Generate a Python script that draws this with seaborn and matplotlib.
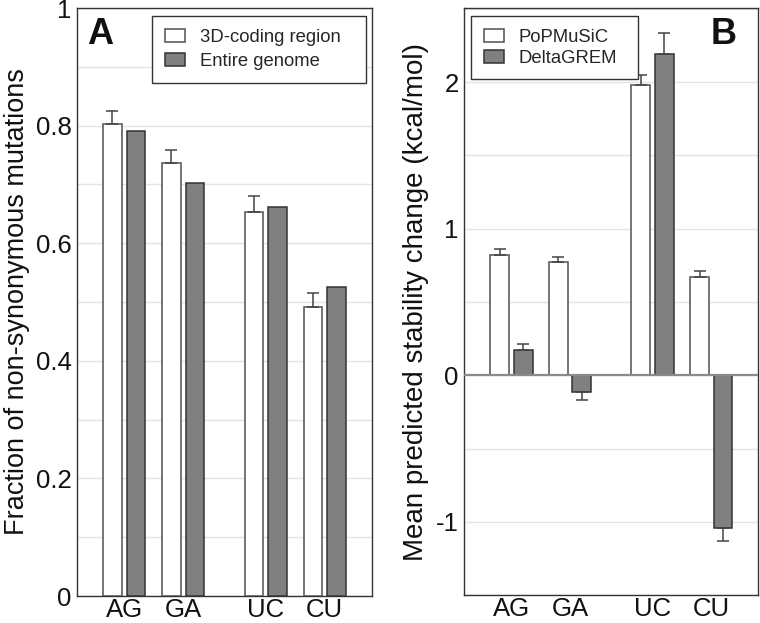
import numpy as np
import pandas as pd
import matplotlib
matplotlib.use("Agg")
import matplotlib.pyplot as plt
import seaborn as sns

# ---------------- data ----------------
categories = ["AG", "GA", "UC", "CU"]

a_series = ["3D-coding region", "Entire genome"]
a_coding = [0.803, 0.736, 0.653, 0.492]
a_coding_err = [0.022, 0.023, 0.027, 0.024]
a_genome = [0.791, 0.702, 0.662, 0.526]
a_genome_err = [0.0, 0.0, 0.0, 0.0]

b_series = ["PoPMuSiC", "DeltaGREM"]
b_pop = [0.820, 0.770, 1.979, 0.672]
b_pop_err = [0.041, 0.039, 0.071, 0.042]
b_dg = [0.170, -0.114, 2.193, -1.042]
b_dg_err = [0.047, 0.051, 0.140, 0.090]

a_yticks = [0, 0.2, 0.4, 0.6, 0.8, 1]
b_yticks = [-1, 0, 1, 2]

# layout (group positions on a numeric axis, with a gap between pairs)
group_pos = [0.0, 1.0, 2.4, 3.4]

sns.set_theme(style="white")
plt.rcParams["font.family"] = ["Liberation Sans", "DejaVu Sans"]

FILL = {0: "white", 1: "#808080"}
EDGE = {0: "#505050", 1: "#333333"}


def make_df(series, v1, v2):
    rows = []
    for s, vals in zip(series, [v1, v2]):
        for c, p, v in zip(categories, group_pos, vals):
            rows.append({"cat": c, "pos": p, "series": s, "value": v})
    return pd.DataFrame(rows)


def draw_panel(ax, series, v1, e1, v2, e2, ylim, yticks, minor_step, ylabel,
               letter, letter_xy, leg_bbox, leg_spacing, labelpad, ylabel_size):
    df = make_df(series, v1, v2)
    sns.barplot(data=df, x="pos", y="value", hue="series", hue_order=series,
                native_scale=True, palette={series[0]: FILL[0], series[1]: FILL[1]},
                gap=0.2, width=0.8, errorbar=None, linewidth=1.1,
                legend=False, ax=ax, zorder=3)
    bars = [c for c in ax.containers]
    for i, cont in enumerate(bars):
        for p in cont.patches:
            p.set_edgecolor(EDGE[i])
            p.set_linewidth(1.1)
    # legend
    handles = [bars[0].patches[0], bars[1].patches[0]]
    leg = ax.legend(handles, series, loc="upper left", bbox_to_anchor=leg_bbox,
                    mode="expand", borderaxespad=0, fontsize=13.3,
                    handlelength=1.08, handleheight=0.7, handletextpad=0.8,
                    labelspacing=leg_spacing, borderpad=0.7, fancybox=False,
                    framealpha=1)
    leg.get_frame().set_edgecolor("#333333")
    leg.get_frame().set_linewidth(1.0)
    leg.set_zorder(10)
    # one-sided error bars in the direction of the bar
    for i, errs in enumerate([e1, e2]):
        for p, e in zip(bars[i].patches, errs):
            if e <= 0:
                continue
            xc = p.get_x() + p.get_width() / 2
            yv = p.get_y() + p.get_height()
            if yv >= 0:
                yerr = [[0], [e]]
            else:
                yerr = [[e], [0]]
            ax.errorbar([xc], [yv], yerr=yerr, fmt="none", ecolor="#444444",
                        elinewidth=1.1, capsize=4.5, capthick=1.1, zorder=4)
    ax.set_xlim(-0.8, 4.2)
    ax.set_ylim(*ylim)
    ax.set_yticks(yticks)
    ax.set_yticklabels([("%g" % t) for t in yticks])
    ax.set_yticks(np.arange(ylim[0] - ylim[0] % minor_step, ylim[1] + 1e-9, minor_step), minor=True)
    ax.grid(True, which="both", axis="y", color="#e4e4e4", linewidth=1.0, zorder=0)
    ax.grid(False, axis="x")
    ax.set_axisbelow(True)
    ax.set_xticks(group_pos)
    ax.set_xticklabels(categories)
    ax.tick_params(axis="both", which="both", length=0, labelsize=18.5, colors="#111111")
    ax.tick_params(axis="x", pad=1.5)
    ax.tick_params(axis="y", pad=4)
    ax.set_xlabel("")
    ax.set_ylabel(ylabel, fontsize=ylabel_size, color="#111111", labelpad=labelpad)
    for s in ax.spines.values():
        s.set_visible(True)
        s.set_color("#333333")
        s.set_linewidth(1.0)
    ax.text(letter_xy[0], letter_xy[1], letter, transform=ax.transAxes,
            fontsize=26, fontweight="bold", ha="center", va="center", color="#111111")


fig = plt.figure(figsize=(7.6, 6.23), dpi=100)
axA = fig.add_axes([77 / 760, 1 - 596 / 623, 295 / 760, 588 / 623])
axB = fig.add_axes([464.3 / 760, 1 - 595.3 / 623, 294 / 760, 587 / 623])

draw_panel(axA, a_series, a_coding, a_coding_err, a_genome, a_genome_err,
           (0, 1), a_yticks, 0.1, "Fraction of non-synonymous mutations",
           "A", ((100.5 - 77) / 295, 1 - (34 - 8) / 588),
           (0.254, 0, 0.726, 0.987), 0.38, 4, 19.5)

draw_panel(axB, b_series, b_pop, b_pop_err, b_dg, b_dg_err,
           (-1.147, 2.503), b_yticks, 0.5, "Mean predicted stability change (kcal/mol)",
           "B", ((724 - 464.3) / 294, 1 - (35 - 8.3) / 587),
           (0.0227, 0, 0.567, 0.987), 0.2, 5, 20)
axB.axhline(0, color="#8a8a8a", linewidth=1.6, zorder=5)

fig.savefig("out.png", dpi=100)
